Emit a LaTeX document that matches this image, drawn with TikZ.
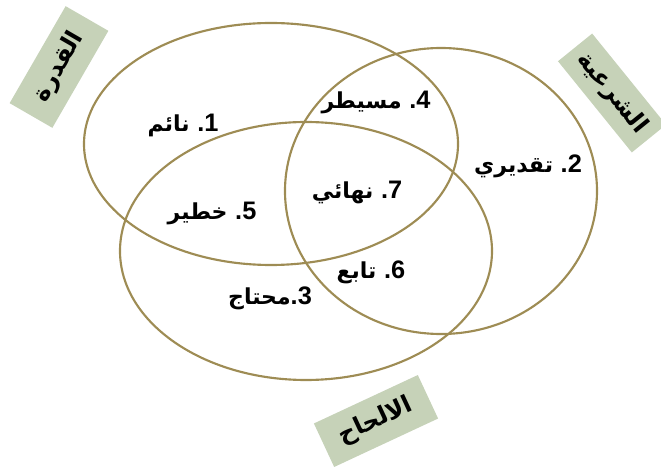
\documentclass[tikz,border=0pt]{standalone}
\usepackage{fontspec}
\usepackage{xcolor}
\usepackage{tikz}
\newfontfamily\arabicfont[Script=Arabic]{DejaVu Sans}
\newfontfamily\digitfont{Liberation Sans}
\TeXXeTstate=1
\definecolor{setcolor}{RGB}{158,140,84}
\definecolor{tagcolor}{RGB}{198,210,184}
\newcommand{\regnum}[1]{\beginL\hbox{\digitfont\fontsize{19}{20}\selectfont.}\hbox{\digitfont\fontsize{19}{20}\selectfont #1}\endL}

\begin{document}
\begin{tikzpicture}
        [
            x = 0.75pt, y = -0.75pt,
            every node/.append style = {font = \arabicfont\bfseries\fontsize{16.5}{18}\selectfont},
            set/.style = {draw = setcolor, line width = 1.6pt},
            tag/.style = {fill = tagcolor, inner sep = 0pt, font = \arabicfont\bfseries\fontsize{18}{20}\selectfont}]
        \useasboundingbox (0,0) rectangle (661,470);
        % the three sets
        \draw[set] (271,144) ellipse [x radius = 187, y radius = 121];
        \draw[set] (441,191) ellipse [x radius = 156, y radius = 143];
        \draw[set] (306,251) ellipse [x radius = 186, y radius = 129];
        % set names
        \node[tag, minimum width = 84pt, minimum height = 37pt, rotate = 60] (qudra) at (59,67) {\beginR القدرة\endR};
        \node[tag, minimum width = 88pt, minimum height = 33pt, rotate = -51] (sharia) at (612,93) {\beginR الشرعية\endR};
        \node[tag, minimum width = 86pt, minimum height = 36pt, rotate = 25] (ilhah) at (376,421) {\beginR الالحاح\endR};
        % regions
        \node (naim) at (183,125) {\beginR\regnum{1} نائم\endR};
        \node (tagdiri) at (528,166) {\beginR\regnum{2} تقديري\endR};
        \node (muhtaj) at (270,298) {\beginR\regnum{3}محتاج\endR};
        \node (musaytir) at (376,102) {\beginR\regnum{4} مسيطر\endR};
        \node (khatir) at (212,213) {\beginR\regnum{5} خطير\endR};
        \node (tabi) at (371,272) {\beginR\regnum{6} تابع\endR};
        \node (nihai) at (357,192) {\beginR\regnum{7} نهائي\endR};
    \end{tikzpicture}
\end{document}
